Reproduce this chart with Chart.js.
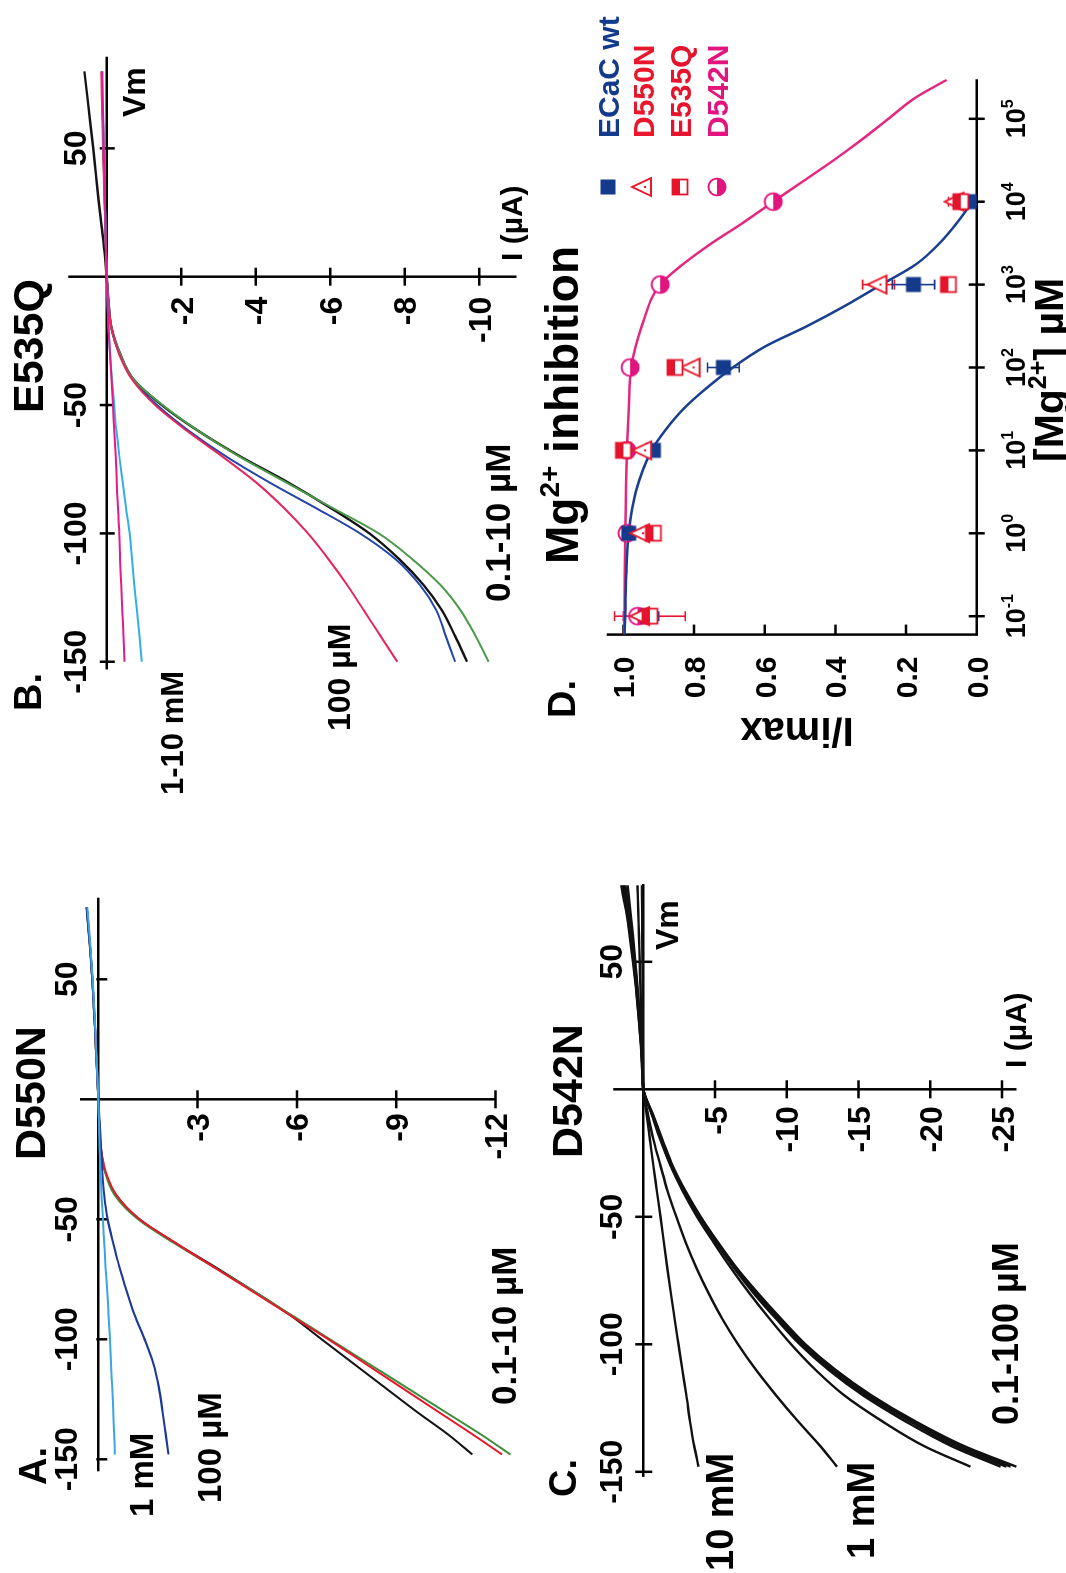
<!DOCTYPE html>
<html>
<head>
<meta charset="utf-8">
<title>Mg2+ block of ECaC pore mutants</title>
<script src="https://cdn.jsdelivr.net/npm/chart.js@4.4.1/dist/chart.umd.min.js"></script>
<style>
  html, body { margin: 0; padding: 0; background: #fff; }
  body { width: 1066px; height: 1573px; overflow: hidden; position: relative; }
  /* the figure is laid out upright and turned a quarter turn to the left */
  #fig { position: absolute; left: 0; top: 0; width: 1573px; height: 1066px;
         transform-origin: 0 0; transform: translate(0, 1573px) rotate(-90deg); }
  #fig canvas { position: absolute; left: 0; top: 0; }
</style>
</head>
<body>
<div id="fig">
  <canvas id="panelA" width="1573" height="1066"></canvas>
  <canvas id="panelB" width="1573" height="1066"></canvas>
  <canvas id="panelC" width="1573" height="1066"></canvas>
  <canvas id="panelD" width="1573" height="1066"></canvas>
</div>
<script>
// ---- A. D550N current-voltage curves (mV, µA) ----
const vmA = [-148, -140, -130, -120, -110, -100, -90, -80, -70, -60, -50, -40, -30, -20, -10, 0, 10, 20, 30, 40, 50, 60, 70, 80];
const aBlack = [-11.3, -10.6, -9.6, -8.65, -7.7, -6.75, -5.8, -4.7, -3.55, -2.35, -1.25, -0.55, -0.2, -0.07, -0.03, 0, 0.03, 0.07, 0.1, 0.14, 0.18, 0.23, 0.29, 0.35];
const aRed = [-12.2, -11.35, -10.25, -9.15, -8.05, -6.95, -5.8, -4.65, -3.5, -2.35, -1.25, -0.55, -0.22, -0.08, -0.03, 0, 0.03, 0.07, 0.1, 0.14, 0.18, 0.23, 0.29, 0.35];
const aGreen = [-12.45, -11.6, -10.45, -9.3, -8.15, -7.0, -5.85, -4.7, -3.5, -2.3, -1.2, -0.5, -0.2, -0.07, -0.03, 0, 0.03, 0.07, 0.1, 0.14, 0.18, 0.23, 0.29, 0.35];
const a100uM = [-2.12, -2.04, -1.94, -1.83, -1.66, -1.4, -1.1, -0.86, -0.64, -0.45, -0.28, -0.18, -0.12, -0.08, -0.04, 0, 0.03, 0.07, 0.1, 0.14, 0.18, 0.23, 0.29, 0.35];
const a1mM = [-0.5, -0.48, -0.45, -0.42, -0.38, -0.35, -0.31, -0.27, -0.22, -0.18, -0.14, -0.1, -0.07, -0.04, -0.02, 0, 0.03, 0.06, 0.09, 0.13, 0.17, 0.22, 0.27, 0.33];
const aCurrentTicks = [-3, -6, -9, -12];

// ---- B. E535Q ----
const vmB = [-150, -140, -130, -120, -110, -100, -90, -80, -70, -60, -50, -40, -30, -20, -10, 0, 10, 20, 30, 40, 50, 60, 70, 80];
const bBlack = [-9.67, -9.35, -9.0, -8.5, -7.85, -7.05, -6.0, -4.85, -3.58, -2.45, -1.48, -0.72, -0.36, -0.13, -0.05, 0, 0.06, 0.14, 0.22, 0.29, 0.36, 0.44, 0.52, 0.6];
const bBlue = [-9.35, -9.1, -8.85, -8.4, -7.75, -6.8, -5.6, -4.35, -3.2, -2.2, -1.35, -0.7, -0.34, -0.13, -0.05, 0, 0.02, 0.04, 0.05, 0.07, 0.09, 0.1, 0.12, 0.13];
const bGreen = [-10.25, -9.9, -9.5, -8.95, -8.2, -7.3, -6.05, -4.8, -3.55, -2.45, -1.5, -0.72, -0.36, -0.13, -0.05, 0, 0.02, 0.04, 0.05, 0.07, 0.09, 0.1, 0.12, 0.13];
const b100uM = [-7.8, -7.35, -6.9, -6.45, -5.95, -5.4, -4.75, -4.0, -3.1, -2.15, -1.3, -0.68, -0.33, -0.13, -0.05, 0, 0.02, 0.04, 0.06, 0.08, 0.1, 0.11, 0.13, 0.14];
const b1mM = [-0.94, -0.88, -0.81, -0.74, -0.68, -0.62, -0.52, -0.43, -0.34, -0.26, -0.2, -0.14, -0.09, -0.05, -0.02, 0, 0.02, 0.03, 0.05, 0.06, 0.08, 0.09, 0.11, 0.12];
const b10mM = [-0.48, -0.45, -0.42, -0.39, -0.36, -0.34, -0.3, -0.27, -0.24, -0.2, -0.17, -0.13, -0.09, -0.05, -0.02, 0, 0.02, 0.03, 0.05, 0.06, 0.08, 0.09, 0.11, 0.12];
const bCurrentTicks = [-2, -4, -6, -8, -10];

// ---- C. D542N ----
const vmC = [-148, -140, -130, -120, -110, -100, -90, -80, -70, -60, -50, -40, -30, -20, -10, 0, 10, 20, 30, 40, 50, 60, 70, 80];
const cLow1 = [-26.0, -22.4, -18.9, -15.9, -13.4, -11.3, -9.6, -8.0, -6.5, -5.2, -4.0, -2.95, -2.05, -1.35, -0.68, 0, 0.09, 0.2, 0.35, 0.52, 0.72, 0.95, 1.2, 1.55];
const cLow2 = [-25.6, -22.1, -18.7, -15.7, -13.25, -11.2, -9.5, -7.9, -6.45, -5.15, -3.95, -2.9, -2.0, -1.3, -0.65, 0, 0.09, 0.19, 0.33, 0.5, 0.68, 0.9, 1.15, 1.45];
const cLow3 = [-25.3, -21.8, -18.5, -15.5, -13.1, -11.05, -9.4, -7.8, -6.4, -5.1, -3.9, -2.85, -1.95, -1.28, -0.64, 0, 0.08, 0.18, 0.31, 0.47, 0.64, 0.85, 1.08, 1.35];
const cLow4 = [-24.9, -21.5, -18.2, -15.3, -12.9, -10.9, -9.25, -7.7, -6.3, -5.05, -3.85, -2.8, -1.93, -1.25, -0.62, 0, 0.08, 0.17, 0.29, 0.44, 0.6, 0.8, 1.0, 1.25];
const cLow5 = [-22.8, -19.6, -16.6, -14.0, -12.0, -10.3, -8.8, -7.4, -6.1, -4.9, -3.75, -2.75, -1.9, -1.2, -0.6, 0, 0.07, 0.15, 0.26, 0.4, 0.55, 0.72, 0.9, 1.1];
const c1mM = [-13.5, -12.35, -10.75, -9.25, -7.85, -6.6, -5.5, -4.55, -3.7, -2.95, -2.3, -1.7, -1.2, -0.72, -0.33, 0, 0.05, 0.1, 0.15, 0.2, 0.25, 0.3, 0.35, 0.4];
const c10mM = [-3.85, -3.55, -3.25, -3.0, -2.72, -2.45, -2.18, -1.92, -1.67, -1.43, -1.2, -0.95, -0.7, -0.47, -0.24, 0, 0.02, 0.03, 0.04, 0.05, 0.06, 0.07, 0.08, 0.1];
const cCurrentTicks = [-5, -10, -15, -20, -25];

const vmTicks = [-150, -100, -50, 50];

// ---- D. Mg2+ inhibition (µM, I/Imax) ----
const mgConc = [0.1, 1, 10, 100, 1000, 10000];
const wtRatio = [0.93, 0.985, 0.915, 0.717, 0.179, 0.014];
const wtSem = [0.03, 0, 0, 0.045, 0.06, 0];
const d550nRatio = [0.95, 0.95, 0.944, 0.807, 0.278, 0.06];
const d550nSem = [0, 0, 0, 0, 0.045, 0.02];
const e535qRatio = [0.925, 0.915, 1.0, 0.854, 0.08, 0.045];
const e535qSem = [0.1, 0, 0, 0, 0, 0];
const d542nRatio = [0.96, 0.99, 0.99, 0.981, 0.896, 0.576];
const d542nSem = [0.04, 0, 0, 0, 0, 0];
const wtFitConc = [0.06, 0.1, 0.316, 1, 3.16, 10, 17.8, 31.6, 56.2, 100, 178, 316, 562, 1000, 1780, 3160, 5620, 10000];
const wtFit = [0.997, 0.995, 0.992, 0.985, 0.965, 0.92, 0.88, 0.83, 0.765, 0.69, 0.6, 0.48, 0.37, 0.27, 0.17, 0.105, 0.055, 0.012];
const d542nFitConc = [0.06, 0.1, 1, 10, 31.6, 100, 316, 1000, 1780, 3160, 5620, 10000, 17800, 31600, 56200, 100000, 178000, 295000];
const d542nFit = [0.998, 0.997, 0.995, 0.99, 0.985, 0.978, 0.948, 0.896, 0.83, 0.75, 0.66, 0.576, 0.49, 0.405, 0.325, 0.25, 0.175, 0.085];
const ratioTicks = [0, 0.2, 0.4, 0.6, 0.8, 1.0];
const concTicks = [0.1, 1, 10, 100, 1000, 10000, 100000];
const concExponents = ['-1', '0', '1', '2', '3', '4', '5'];

const FONT = '"Liberation Sans", Arial, Helvetica, sans-serif';
const W = 1573, H = 1066;

const pts = (xs, ys) => xs.map((x, i) => ({ x, y: ys[i] }));

function trace(xs, ys, color, width) {
  return {
    data: pts(xs, ys), showLine: true, borderColor: color, borderWidth: width,
    pointRadius: 0, tension: 0.4, cubicInterpolationMode: 'monotone', fill: false
  };
}

// text with optional superscript pieces: ['Mg', {sup: '2+'}, ' inhibition']
function drawRich(ctx, parts, x, y, size, align) {
  const pieces = parts.map(p => typeof p === 'string'
    ? { t: p, f: `bold ${size}px ${FONT}`, dy: 0 }
    : { t: p.sup, f: `bold ${Math.round(size * 0.6)}px ${FONT}`, dy: -size * 0.42 });
  let total = 0;
  pieces.forEach(p => { ctx.font = p.f; p.w = ctx.measureText(p.t).width; total += p.w; });
  let cx = align === 'center' ? x - total / 2 : align === 'right' ? x - total : x;
  ctx.textAlign = 'left';
  ctx.textBaseline = 'alphabetic';
  pieces.forEach(p => { ctx.font = p.f; ctx.fillText(p.t, cx, y + p.dy); cx += p.w; });
}

// point markers
function marker(kind, color) {
  const s = 26, m = s / 2;
  const c = document.createElement('canvas');
  c.width = c.height = s;
  const g = c.getContext('2d');
  g.strokeStyle = color; g.fillStyle = color; g.lineWidth = 1.8;
  if (kind === 'square') {
    g.fillRect(m - 7.5, m - 7.5, 15, 15);
  } else if (kind === 'triangle') {
    g.beginPath();
    g.moveTo(m, m - 11); g.lineTo(m + 9, m + 8); g.lineTo(m - 9, m + 8); g.closePath();
    g.fillStyle = '#fff'; g.fill(); g.stroke();
    g.fillStyle = color; g.fillRect(m - 1, m + 1, 2, 2);
  } else if (kind === 'halfSquare') {
    g.fillStyle = '#fff'; g.fillRect(m - 7.5, m - 7.5, 15, 15);
    g.fillStyle = color; g.fillRect(m - 7.5, m - 7.5, 15, 7.5);
    g.strokeRect(m - 7.5, m - 7.5, 15, 15);
  } else if (kind === 'halfCircle') {
    g.beginPath(); g.arc(m, m, 8.5, 0, Math.PI * 2);
    g.fillStyle = '#fff'; g.fill();
    g.beginPath(); g.arc(m, m, 8.5, 0, Math.PI); g.closePath();
    g.fillStyle = color; g.fill();
    g.beginPath(); g.arc(m, m, 8.5, 0, Math.PI * 2); g.stroke();
  }
  return c;
}

const WT_COL = '#143a8c', D550N_COL = '#e8172b', E535Q_COL = '#e5142c', D542N_COL = '#e2157f';
const wtMark = marker('square', WT_COL);
const d550nMark = marker('triangle', D550N_COL);
const e535qMark = marker('halfSquare', E535Q_COL);
const d542nMark = marker('halfCircle', D542N_COL);

// axes crossing at the origin, as used for the I-V panels
function drawCrossAxes(chart, d) {
  const { ctx } = chart;
  const X = v => chart.scales.x.getPixelForValue(v);
  const Y = v => chart.scales.y.getPixelForValue(v);
  const u0 = X(0), v0 = Y(0);
  ctx.strokeStyle = '#000'; ctx.lineWidth = 2.5;
  ctx.beginPath();
  ctx.moveTo(X(d.vmLine[0]), v0); ctx.lineTo(X(d.vmLine[1]), v0);
  ctx.moveTo(u0, Y(d.iLine[0])); ctx.lineTo(u0, Y(d.iLine[1]));
  vmTicks.forEach(t => { ctx.moveTo(X(t), v0 + d.vmTick[0]); ctx.lineTo(X(t), v0 + d.vmTick[1]); });
  d.iTicks.forEach(t => { ctx.moveTo(u0 - 9, Y(t)); ctx.lineTo(u0 + 9, Y(t)); });
  ctx.stroke();
  ctx.fillStyle = '#000';
  ctx.font = `bold 32px ${FONT}`;
  ctx.textBaseline = 'alphabetic';
  ctx.textAlign = 'center';
  vmTicks.forEach(t => ctx.fillText(String(t), X(t), v0 - 21));
  ctx.textAlign = 'right';
  d.iTicks.forEach(t => ctx.fillText(String(t), u0 - d.iGap, Y(t) + 11.5));
}

// left/bottom axes of the dose-response panel
function drawFrameAxes(chart, d) {
  const { ctx } = chart;
  const xs = chart.scales.x;
  const X = v => xs.getPixelForValue(v);
  const Y = v => chart.scales.y.getPixelForValue(v);
  const left = xs.left, base = Y(0);
  ctx.strokeStyle = '#000'; ctx.lineWidth = 2.5;
  ctx.beginPath();
  ctx.moveTo(left, Y(chart.scales.y.max)); ctx.lineTo(left, base); ctx.lineTo(xs.right, base);
  ratioTicks.forEach(t => { ctx.moveTo(left, Y(t)); ctx.lineTo(left + 10, Y(t)); });
  concTicks.forEach(t => { ctx.moveTo(X(t), base - 8); ctx.lineTo(X(t), base + 8); });
  ctx.stroke();
  ctx.fillStyle = '#000';
  ctx.font = `bold 30px ${FONT}`;
  ctx.textAlign = 'right'; ctx.textBaseline = 'alphabetic';
  ratioTicks.forEach(t => ctx.fillText(t.toFixed(1), left - 22, Y(t) + 11));
  concTicks.forEach((t, i) => drawRich(ctx, ['10', { sup: concExponents[i] }], X(t), base + 48, 27, 'center'));
}

function drawErrorBars(chart) {
  const { ctx } = chart;
  chart.data.datasets.forEach(ds => {
    if (!ds.errorBars) return;
    ctx.strokeStyle = ds.errorColor; ctx.lineWidth = 1.6;
    ctx.beginPath();
    ds.data.forEach((p, j) => {
      const e = ds.errorBars[j];
      if (!e) return;
      const u = chart.scales.x.getPixelForValue(p.x);
      const lo = chart.scales.y.getPixelForValue(p.y - e);
      const hi = chart.scales.y.getPixelForValue(p.y + e);
      ctx.moveTo(u, lo); ctx.lineTo(u, hi);
      ctx.moveTo(u - 5, lo); ctx.lineTo(u + 5, lo);
      ctx.moveTo(u - 5, hi); ctx.lineTo(u + 5, hi);
    });
    ctx.stroke();
  });
}

const panelDecor = {
  id: 'panelDecor',
  beforeDatasetsDraw(chart, args, opts) {
    chart.ctx.save();
    if (opts.kind === 'iv') drawCrossAxes(chart, opts);
    else { drawFrameAxes(chart, opts); drawErrorBars(chart); }
    chart.ctx.restore();
  },
  afterDraw(chart, args, opts) {
    const { ctx } = chart;
    ctx.save();
    (opts.texts || []).forEach(t => {
      ctx.fillStyle = t.color || '#000';
      if (t.rot) {
        ctx.save();
        ctx.translate(t.x, t.y);
        ctx.rotate(t.rot * Math.PI / 180);
        drawRich(ctx, t.parts, 0, 0, t.size, t.align);
        ctx.restore();
      } else {
        drawRich(ctx, t.parts, t.x, t.y, t.size, t.align);
      }
    });
    (opts.legend || []).forEach(item => {
      ctx.drawImage(item.mark, item.u - item.mark.width / 2, item.v - item.mark.height / 2);
      ctx.fillStyle = item.color;
      drawRich(ctx, [item.text], item.textU, item.v + 11, 30, 'left');
    });
    ctx.restore();
  }
};

// frame: pixel of the origin, pixels per unit, and the value range of each scale
function makeChart(id, frame, datasets, decor) {
  const tx = frame.log ? Math.log10 : (v => v);
  const left = frame.u0 + frame.kx * tx(frame.x[0]);
  const right = frame.u0 + frame.kx * tx(frame.x[1]);
  const top = frame.v0 - frame.ky * frame.y[1];
  const bottom = frame.v0 - frame.ky * frame.y[0];
  return new Chart(document.getElementById(id), {
    type: 'scatter',
    data: { datasets },
    options: {
      responsive: false, animation: false, devicePixelRatio: 1, events: [],
      layout: { autoPadding: false, padding: { left, top, right: W - right, bottom: H - bottom } },
      scales: {
        x: { type: frame.log ? 'logarithmic' : 'linear', min: frame.x[0], max: frame.x[1], display: false },
        y: { type: 'linear', min: frame.y[0], max: frame.y[1], display: false }
      },
      plugins: { legend: { display: false }, tooltip: { enabled: false }, panelDecor: decor }
    },
    plugins: [panelDecor]
  });
}

makeChart('panelA',
  { u0: 473.7, v0: 98.3, kx: 2.4, ky: 33.1, x: [-160, 90], y: [-13, 1] },
  [
    trace(vmA, a1mM, '#3aa6df', 2),
    trace(vmA, a100uM, '#1d3a9a', 2.2),
    trace(vmA, aRed, '#e8182a', 2),
    trace(vmA, aGreen, '#3d8f3d', 2),
    trace(vmA, aBlack, '#141414', 2)
  ],
  {
    kind: 'iv', vmLine: [-155, 84], iLine: [0.55, -12], vmTick: [-2, 9], iTicks: aCurrentTicks, iGap: 14,
    texts: [
      { parts: ['A.'], x: 88, y: 46, size: 38 },
      { parts: ['D550N'], x: 413, y: 45, size: 43 },
      { parts: ['1 mM'], x: 56, y: 153, size: 33 },
      { parts: ['100 µM'], x: 70, y: 221, size: 33 },
      { parts: ['0.1-10 µM'], x: 168, y: 516, size: 35 }
    ]
  });

makeChart('panelB',
  { u0: 1296.3, v0: 106.7, kx: 2.567, ky: 37.26, x: [-160, 90], y: [-11.5, 1.5] },
  [
    trace(vmB, b10mM, '#e41a8a', 2),
    trace(vmB, b1mM, '#35aee8', 2),
    trace(vmB, b100uM, '#e32660', 2),
    trace(vmB, bGreen, '#4a9a4a', 2),
    trace(vmB, bBlue, '#2345a8', 2),
    trace(vmB, bBlack, '#141414', 2.4)
  ],
  {
    kind: 'iv', vmLine: [-153, 85.7], iLine: [1.03, -11], vmTick: [-7, 8], iTicks: bCurrentTicks, iGap: 20,
    texts: [
      { parts: ['B.'], x: 862, y: 41, size: 38 },
      { parts: ['E535Q'], x: 1160, y: 43, size: 43 },
      { parts: ['1-10 mM'], x: 778, y: 183, size: 31 },
      { parts: ['100 µM'], x: 842, y: 350, size: 32 },
      { parts: ['0.1-10 µM'], x: 971, y: 510, size: 35 },
      { parts: ['Vm'], x: 1456, y: 145, size: 32 },
      { parts: ['I (µA)'], x: 1312, y: 522, size: 30 }
    ]
  });

makeChart('panelC',
  { u0: 483.7, v0: 643.3, kx: 2.55, ky: 14.35, x: [-160, 90], y: [-27, 3] },
  [
    trace(vmC, c10mM, '#111', 2.4),
    trace(vmC, c1mM, '#111', 2.4),
    trace(vmC, cLow5, '#111', 2.4),
    trace(vmC, cLow4, '#111', 2.4),
    trace(vmC, cLow3, '#111', 2.4),
    trace(vmC, cLow2, '#111', 2.4),
    trace(vmC, cLow1, '#111', 2.4)
  ],
  {
    kind: 'iv', vmLine: [-152, 80.5], iLine: [2.1, -26], vmTick: [-8, 9], iTicks: cCurrentTicks, iGap: 17,
    texts: [
      { parts: ['C.'], x: 76, y: 576, size: 38 },
      { parts: ['D542N'], x: 415, y: 582, size: 43 },
      { parts: ['10 mM'], x: 2, y: 733, size: 38 },
      { parts: ['1 mM'], x: 14, y: 874, size: 38 },
      { parts: ['0.1-100 µM'], x: 148, y: 1018, size: 36 },
      { parts: ['Vm'], x: 623, y: 678, size: 32 },
      { parts: ['I (µA)'], x: 505, y: 1026, size: 30 }
    ]
  });

function markSet(ys, errs, mark, color) {
  return { data: pts(mgConc, ys), pointStyle: mark, pointRadius: 8, showLine: false,
           errorBars: errs, errorColor: color };
}

makeChart('panelD',
  { u0: 1039.7, v0: 976.7, kx: 82.9, ky: 353.3, x: [0.06, 300000], y: [0, 1.047], log: true },
  [
    markSet(e535qRatio, e535qSem, e535qMark, E535Q_COL),
    markSet(d550nRatio, d550nSem, d550nMark, D550N_COL),
    markSet(wtRatio, wtSem, wtMark, WT_COL),
    markSet(d542nRatio, d542nSem, d542nMark, D542N_COL),
    trace(wtFitConc, wtFit, '#1b3f8f', 2.5),
    trace(d542nFitConc, d542nFit, '#e2287f', 2.5)
  ],
  {
    kind: 'dose',
    texts: [
      { parts: ['D.'], x: 855, y: 575, size: 38 },
      { parts: ['Mg', { sup: '2+' }, ' inhibition'], x: 1009, y: 578, size: 46 },
      { parts: ['[Mg', { sup: '2+' }, '] µM'], x: 1111, y: 1063, size: 41 },
      { parts: ['I/imax'], x: 855, y: 797, size: 40, rot: -90, align: 'center' }
    ],
    legend: [
      { mark: wtMark, text: 'ECaC wt', color: WT_COL, u: 1386, v: 608, textU: 1435 },
      { mark: d550nMark, text: 'D550N', color: D550N_COL, u: 1386, v: 643, textU: 1435 },
      { mark: e535qMark, text: 'E535Q', color: E535Q_COL, u: 1386, v: 680, textU: 1435 },
      { mark: d542nMark, text: 'D542N', color: D542N_COL, u: 1386, v: 717, textU: 1435 }
    ]
  });
</script>
</body>
</html>
